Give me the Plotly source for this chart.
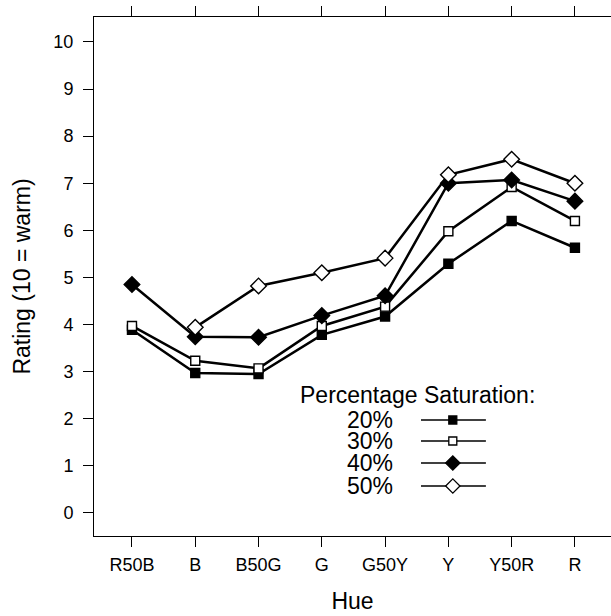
import plotly.graph_objects as go

hues = ["R50B", "B", "B50G", "G", "G50Y", "Y", "Y50R", "R"]
sat_labels = ["20%", "30%", "40%", "50%"]
s20 = [3.89, 2.97, 2.95, 3.78, 4.17, 5.29, 6.20, 5.63]
s30 = [3.97, 3.23, 3.07, 3.97, 4.38, 5.98, 6.92, 6.20]
s40 = [4.85, 3.74, 3.73, 4.19, 4.61, 7.00, 7.07, 6.62]
s50 = [None, 3.94, 4.82, 5.10, 5.41, 7.18, 7.51, 7.00]
y_ticks = list(range(0, 11))

series = [s20, s30, s40, s50]
symbols = ["square", "square", "diamond", "diamond"]
fills = ["black", "white", "black", "white"]
sizes = [9, 9, 12, 12]

FONT = "Liberation Sans, Arial, Helvetica, sans-serif"

fig = go.Figure()
xidx = list(range(len(hues)))
for vals, sym, fc, sz, lab in zip(series, symbols, fills, sizes, sat_labels):
    fig.add_trace(go.Scatter(
        x=xidx, y=vals, mode="lines+markers", name=lab,
        line=dict(color="black", width=2.5),
        marker=dict(symbol=sym, size=sz, color=fc,
                    line=dict(color="black", width=1.4)),
        connectgaps=False, showlegend=False, cliponaxis=False))

# custom lattice-style key
key_rows = [0.2235, 0.183, 0.1407, 0.0963]
for ry, sym, fc, sz, lab in zip(key_rows, symbols, fills, sizes, sat_labels):
    fig.add_trace(go.Scatter(
        x=[0.6325, 0.758], y=[ry, ry], mode="lines", xaxis="x2", yaxis="y2",
        line=dict(color="black", width=1.5), showlegend=False, hoverinfo="skip"))
    fig.add_trace(go.Scatter(
        x=[0.694], y=[ry], mode="markers", xaxis="x2", yaxis="y2",
        marker=dict(symbol=sym, size=sz - 1, color=fc,
                    line=dict(color="black", width=1.3)),
        showlegend=False, hoverinfo="skip"))
    fig.add_annotation(x=0.582, y=ry, xref="paper", yref="paper", text=lab,
                       showarrow=False, xanchor="right", yanchor="middle",
                       font=dict(size=23, color="black", family=FONT))

fig.add_annotation(x=0.625, y=0.2717, xref="paper", yref="paper",
                   text="Percentage Saturation:", showarrow=False,
                   xanchor="center", yanchor="middle",
                   font=dict(size=23, color="black", family=FONT))

fig.update_layout(
    width=611, height=616,
    margin=dict(l=94, r=0, t=17, b=80),
    paper_bgcolor="white", plot_bgcolor="white",
    font=dict(family=FONT, color="black"),
    xaxis=dict(
        range=[-0.6, 7.57], tickmode="array", tickvals=xidx, ticktext=hues,
        showgrid=False, zeroline=False, showline=True, linecolor="black",
        linewidth=1, mirror="ticks", ticks="outside", ticklen=10,
        tickcolor="black", tickwidth=1, tickfont=dict(size=18),
        ticklabelstandoff=2,
        title=dict(text="Hue", font=dict(size=23), standoff=19)),
    yaxis=dict(
        range=[-0.49, 10.53], tickmode="array", tickvals=y_ticks,
        showgrid=False, zeroline=False, showline=True, linecolor="black",
        linewidth=1, mirror=False, ticks="outside", ticklen=10,
        tickcolor="black", tickwidth=1, tickfont=dict(size=18),
        ticklabelstandoff=6,
        title=dict(text="Rating (10 = warm)", font=dict(size=23), standoff=16)),
    xaxis2=dict(range=[0, 1], visible=False, anchor="y2", overlaying="x"),
    yaxis2=dict(range=[0, 1], visible=False, anchor="x2", overlaying="y"),
)

fig.write_html("out.html")
